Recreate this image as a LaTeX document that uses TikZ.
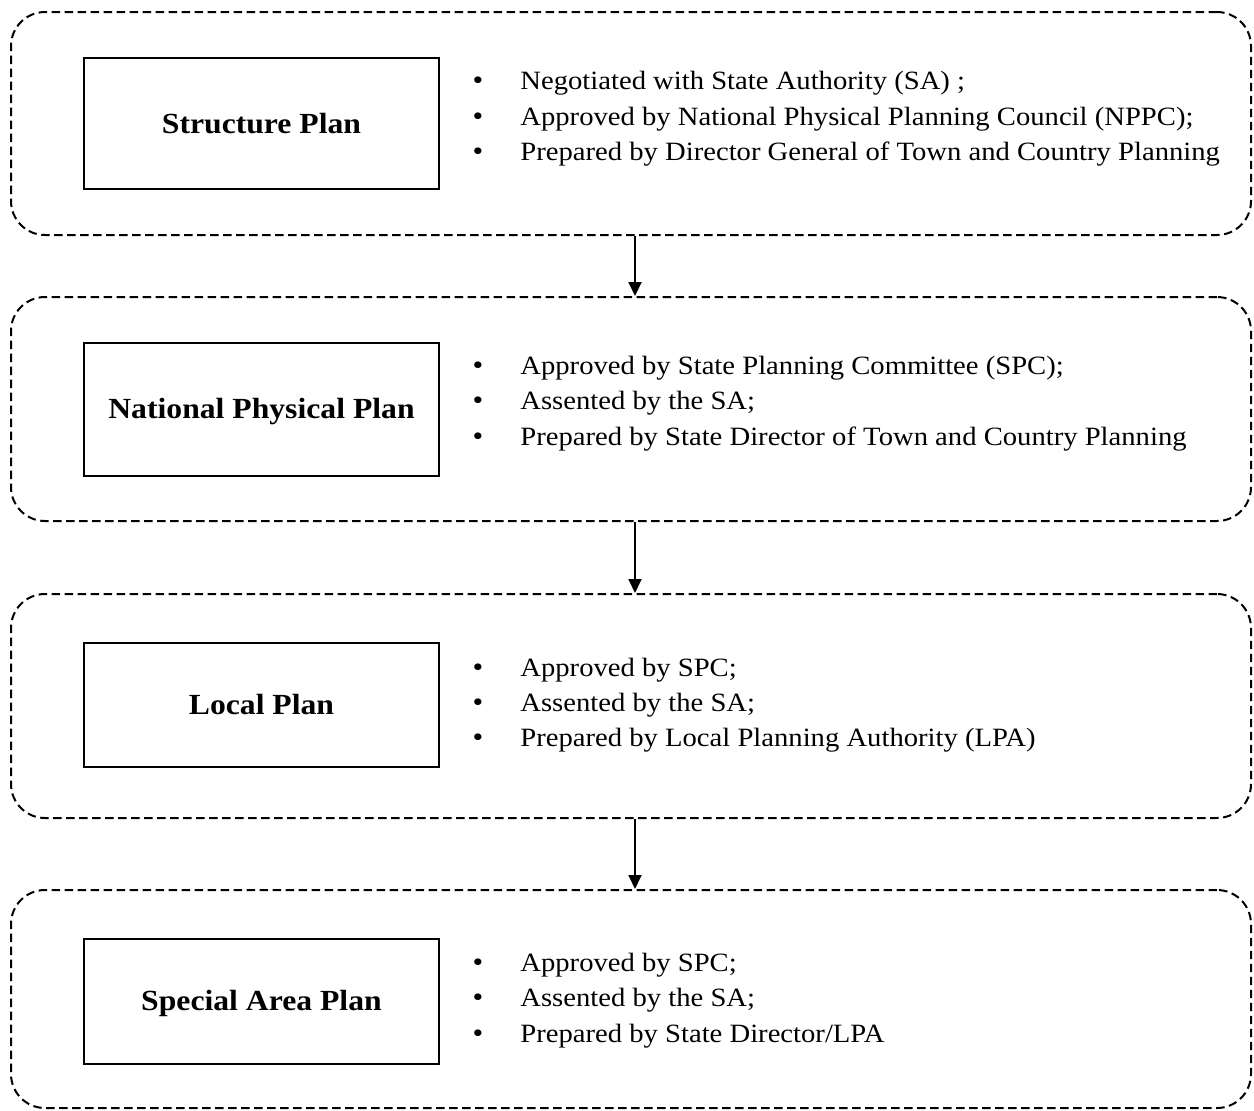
\documentclass[tikz,border=0pt]{standalone}
\usepackage{fontspec}
\setmainfont[FakeStretch=1.085]{Liberation Serif}
\usetikzlibrary{arrows.meta}

\begin{document}
\begin{tikzpicture}[x=0.5pt, y=-0.5pt,
  stagebox/.style={draw, line width=1pt, dash pattern=on 4.2pt off 2.3pt,
    rounded corners=17pt, minimum width=620pt, inner sep=0pt},
  planbox/.style={draw, line width=1.1pt, minimum width=177.5pt, inner sep=0pt},
  title/.style={anchor=base, inner sep=0pt, font=\fontsize{14.6}{17}\selectfont\bfseries},
  bul/.style={anchor=base, inner sep=0pt, font=\fontsize{14}{16}\selectfont},
  item/.style={anchor=base west, inner sep=0pt, font=\fontsize{13.2}{16}\selectfont},
  flow/.style={line width=0.9pt, -{Triangle[length=7pt, width=6.5pt]}}]

\useasboundingbox (0,0) rectangle (1254,1110);

% ---- stage 1: Structure Plan ----
\node[stagebox, minimum height=111.5pt] (s1) at (631,123.5) {};
\node[planbox, minimum height=65.5pt] (p1) at (261.5,123.5) {};
\node[title] (t1) at (261.5,133) {Structure Plan};
\node[bul] (b1a) at (478,89) {•};
\node[bul] (b1b) at (478,125) {•};
\node[bul] (b1c) at (478,160) {•};
\node[item] (i1a) at (520,89) {Negotiated with State Authority (SA) ;};
\node[item] (i1b) at (520,125) {Approved by National Physical Planning Council (NPPC);};
\node[item] (i1c) at (520,160) {Prepared by Director General of Town and Country Planning};

% ---- stage 2: National Physical Plan ----
\node[stagebox, minimum height=112pt] (s2) at (631,409) {};
\node[planbox, minimum height=66.5pt] (p2) at (261.5,409.5) {};
\node[title] (t2) at (261.5,418) {National Physical Plan};
\node[bul] (b2a) at (478,374) {•};
\node[bul] (b2b) at (478,409) {•};
\node[bul] (b2c) at (478,445) {•};
\node[item] (i2a) at (520,374) {Approved by State Planning Committee (SPC);};
\node[item] (i2b) at (520,409) {Assented by the SA;};
\node[item] (i2c) at (520,445) {Prepared by State Director of Town and Country Planning};

% ---- stage 3: Local Plan ----
\node[stagebox, minimum height=112pt] (s3) at (631,706) {};
\node[planbox, minimum height=62pt] (p3) at (261.5,705) {};
\node[title] (t3) at (261.5,714) {Local Plan};
\node[bul] (b3a) at (478,676) {•};
\node[bul] (b3b) at (478,711) {•};
\node[bul] (b3c) at (478,746) {•};
\node[item] (i3a) at (520,676) {Approved by SPC;};
\node[item] (i3b) at (520,711) {Assented by the SA;};
\node[item] (i3c) at (520,746) {Prepared by Local Planning Authority (LPA)};

% ---- stage 4: Special Area Plan ----
\node[stagebox, minimum height=109pt] (s4) at (631,999) {};
\node[planbox, minimum height=62.5pt] (p4) at (261.5,1001.5) {};
\node[title] (t4) at (261.5,1010) {Special Area Plan};
\node[bul] (b4a) at (478,971) {•};
\node[bul] (b4b) at (478,1006) {•};
\node[bul] (b4c) at (478,1042) {•};
\node[item] (i4a) at (520,971) {Approved by SPC;};
\node[item] (i4b) at (520,1006) {Assented by the SA;};
\node[item] (i4c) at (520,1042) {Prepared by State Director/LPA};

% ---- flow between stages ----
\draw[flow] ([xshift=2pt]s1.south) -- ([xshift=2pt]s2.north);
\draw[flow] ([xshift=2pt]s2.south) -- ([xshift=2pt]s3.north);
\draw[flow] ([xshift=2pt]s3.south) -- ([xshift=2pt]s4.north);
\end{tikzpicture}
\end{document}
